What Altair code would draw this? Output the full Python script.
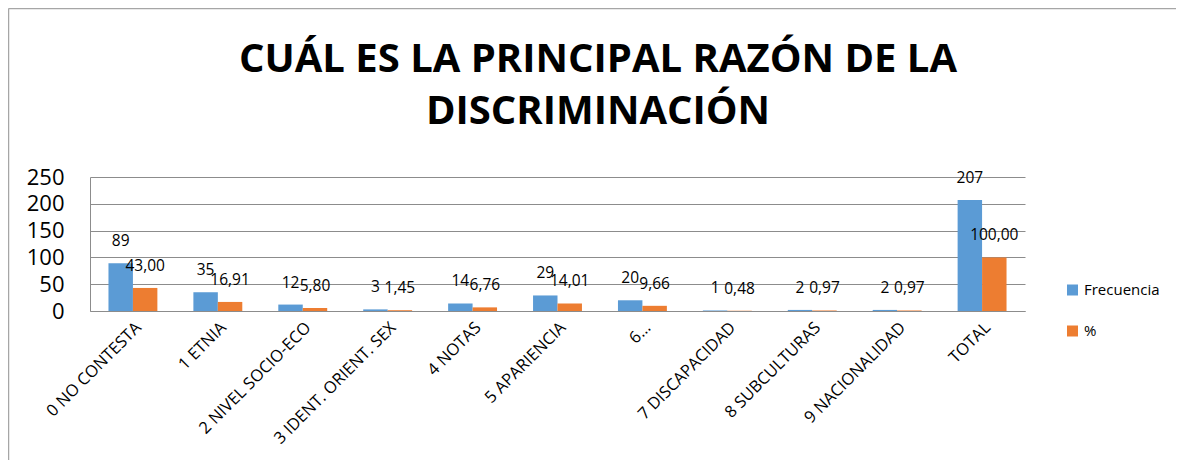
import altair as alt
import pandas as pd

categories = ["0 NO CONTESTA", "1 ETNIA", "2 NIVEL SOCIO-ECO", "3 IDENT. ORIENT. SEX",
              "4 NOTAS", "5 APARIENCIA", "6…", "7 DISCAPACIDAD", "8 SUBCULTURAS",
              "9 NACIONALIDAD", "TOTAL"]
frecuencia = [89, 35, 12, 3, 14, 29, 20, 1, 2, 2, 207]
porcentaje = [43.00, 16.91, 5.80, 1.45, 6.76, 14.01, 9.66, 0.48, 0.97, 0.97, 100.00]
series = ["Frecuencia", "%"]
y_ticks = [0, 50, 100, 150, 200, 250]
title_lines = ["CUÁL ES LA PRINCIPAL RAZÓN DE LA", "DISCRIMINACIÓN"]

rows = []
for c, f, p in zip(categories, frecuencia, porcentaje):
    rows.append({"cat": c, "serie": series[0], "value": f, "label": str(f)})
    rows.append({"cat": c, "serie": series[1], "value": p, "label": f"{p:.2f}".replace(".", ",")})
df = pd.DataFrame(rows)

FONT = "Open Sans"
GRID = "#8C8C8C"

y_axis = alt.Axis(title=None, values=y_ticks, labelFontSize=22, labelFont=FONT,
                  labelColor="#000000", ticks=False, domainColor=GRID,
                  gridColor=GRID, labelPadding=26, labelOverlap=False)

base = alt.Chart(df).encode(
    x=alt.X("cat:N", sort=categories,
            scale=alt.Scale(paddingInner=0.424, paddingOuter=0.2175),
            axis=alt.Axis(title=None, labelAngle=-45, labelFontSize=16.5, labelFont=FONT,
                          labelColor="#000000", domainColor=GRID, ticks=False,
                          labelPadding=8, labelLimit=400, labelOverlap=False)),
    xOffset=alt.XOffset("serie:N", sort=series,
                        scale=alt.Scale(domain=series, paddingInner=0, paddingOuter=0)),
    y=alt.Y("value:Q", scale=alt.Scale(domain=[0, 250], nice=False), axis=y_axis),
)

bars = base.mark_bar().encode(
    color=alt.Color("serie:N", sort=series,
                    scale=alt.Scale(domain=series, range=["#5B9BD5", "#ED7D31"]),
                    legend=alt.Legend(title=None, orient="none", legendX=975, legendY=105.5,
                                      symbolType="square", symbolSize=121,
                                      symbolStrokeWidth=0, labelFontSize=15, labelFont=FONT,
                                      labelColor="#000000", rowPadding=25)),
)

texts = base.mark_text(dy=-22, fontSize=15.5, font=FONT, color="#000000").encode(
    text="label:N",
)

frame_df = pd.DataFrame({"a": [0]})
frame_left = alt.Chart(frame_df).mark_rule(color="#A6A6A6", strokeWidth=1.5).encode(
    x=alt.value(-81.5), y=alt.value(-168.5), y2=alt.value(300))
frame_top = alt.Chart(frame_df).mark_rule(color="#A6A6A6", strokeWidth=1.5).encode(
    x=alt.value(-81.5), x2=alt.value(1110), y=alt.value(-168.5))

title_mark = alt.Chart(frame_df).mark_text(
    font=FONT, fontSize=40, fontWeight="bold", color="#000000",
    align="center", baseline="middle", lineHeight=52,
).encode(x=alt.value(508), y=alt.value(-117), text=alt.value(title_lines))

chart = alt.layer(bars, texts, frame_left, frame_top, title_mark).properties(
    width=935, height=134,
    padding={"left": 82, "top": 169, "right": 151, "bottom": 149},
    autosize="none",
).configure_view(stroke=None)

chart.save("out.html", embed_options={"renderer": "svg", "actions": False})
